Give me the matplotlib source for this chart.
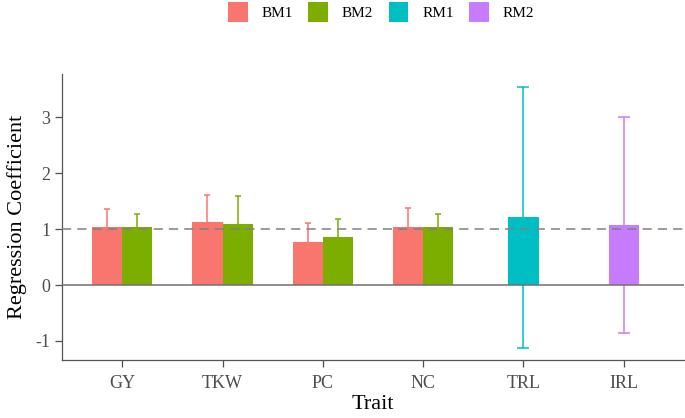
import numpy as np
import matplotlib.pyplot as plt
from matplotlib.patches import Patch

plt.rcParams['font.family'] = ['Liberation Serif', 'DejaVu Serif']

traits = ['GY', 'TKW', 'PC', 'NC', 'TRL', 'IRL']
methods = ['BM1', 'BM2', 'RM1', 'RM2']
colors = {'BM1': '#F8766D', 'BM2': '#7CAE00', 'RM1': '#00BFC4', 'RM2': '#C77CFF'}

# bayesian models on first four traits
bm1_coef = [1.04, 1.12, 0.77, 1.04]
bm1_err = [0.32, 0.49, 0.34, 0.34]
bm2_coef = [1.04, 1.09, 0.85, 1.04]
bm2_err = [0.22, 0.50, 0.33, 0.22]
# regression models on root traits
rm1_coef = [1.21]
rm1_err = [2.33]
rm2_coef = [1.07]
rm2_err = [1.93]

fig = plt.figure(figsize=(6.85, 4.18), dpi=100)
ax = fig.add_axes([62/685, 1-360/418, 622/685, 286/418])

x = np.arange(1, len(traits) + 1)
w = 0.3

def draw(pos, vals, errs, col, cap):
    ax.errorbar(pos, vals, yerr=errs, fmt='none', ecolor=col, elinewidth=1.1,
                capsize=cap, capthick=1.1, zorder=1)
    ax.bar(pos, vals, width=w, color=col, zorder=2)

draw(x[:4] - w/2, bm1_coef, bm1_err, colors['BM1'], 2.2)
draw(x[:4] + w/2, bm2_coef, bm2_err, colors['BM2'], 2.2)
draw(x[4:5], rm1_coef, rm1_err, colors['RM1'], 4)
draw(x[5:6], rm2_coef, rm2_err, colors['RM2'], 4)

ax.axhline(0, color='#707070', lw=1.1, zorder=3)
ax.axhline(1, color='#808080', lw=1.1, ls=(0, (6, 4)), zorder=3)

ax.set_xlim(0.4, 6.6)
ax.set_ylim(-1.34, 3.77)
ax.set_xticks(x)
ax.set_xticklabels(traits)
ax.set_yticks([-1, 0, 1, 2, 3])
ax.set_yticklabels(['-1', '0', '1', '2', '3'])
ax.tick_params(labelsize=13, colors='#4d4d4d', length=5, width=0.9)
ax.tick_params(axis='x', pad=6)
for s in ['top', 'right']:
    ax.spines[s].set_visible(False)
for s in ['left', 'bottom']:
    ax.spines[s].set_color('#555555')
    ax.spines[s].set_linewidth(0.9)
ax.set_xlabel('Trait', fontsize=16, labelpad=2)
ax.set_ylabel('Regression Coefficient', fontsize=16, labelpad=6)

handles = [Patch(facecolor=colors[m], label=m) for m in methods]
fig.legend(handles=handles, loc='upper center', bbox_to_anchor=(381/685, 1.02), ncol=4,
           frameon=False, fontsize=11, handlelength=1.3, handleheight=1.65,
           columnspacing=1.0, handletextpad=0.9, borderaxespad=0.3)

fig.savefig('out.png', dpi=100)
